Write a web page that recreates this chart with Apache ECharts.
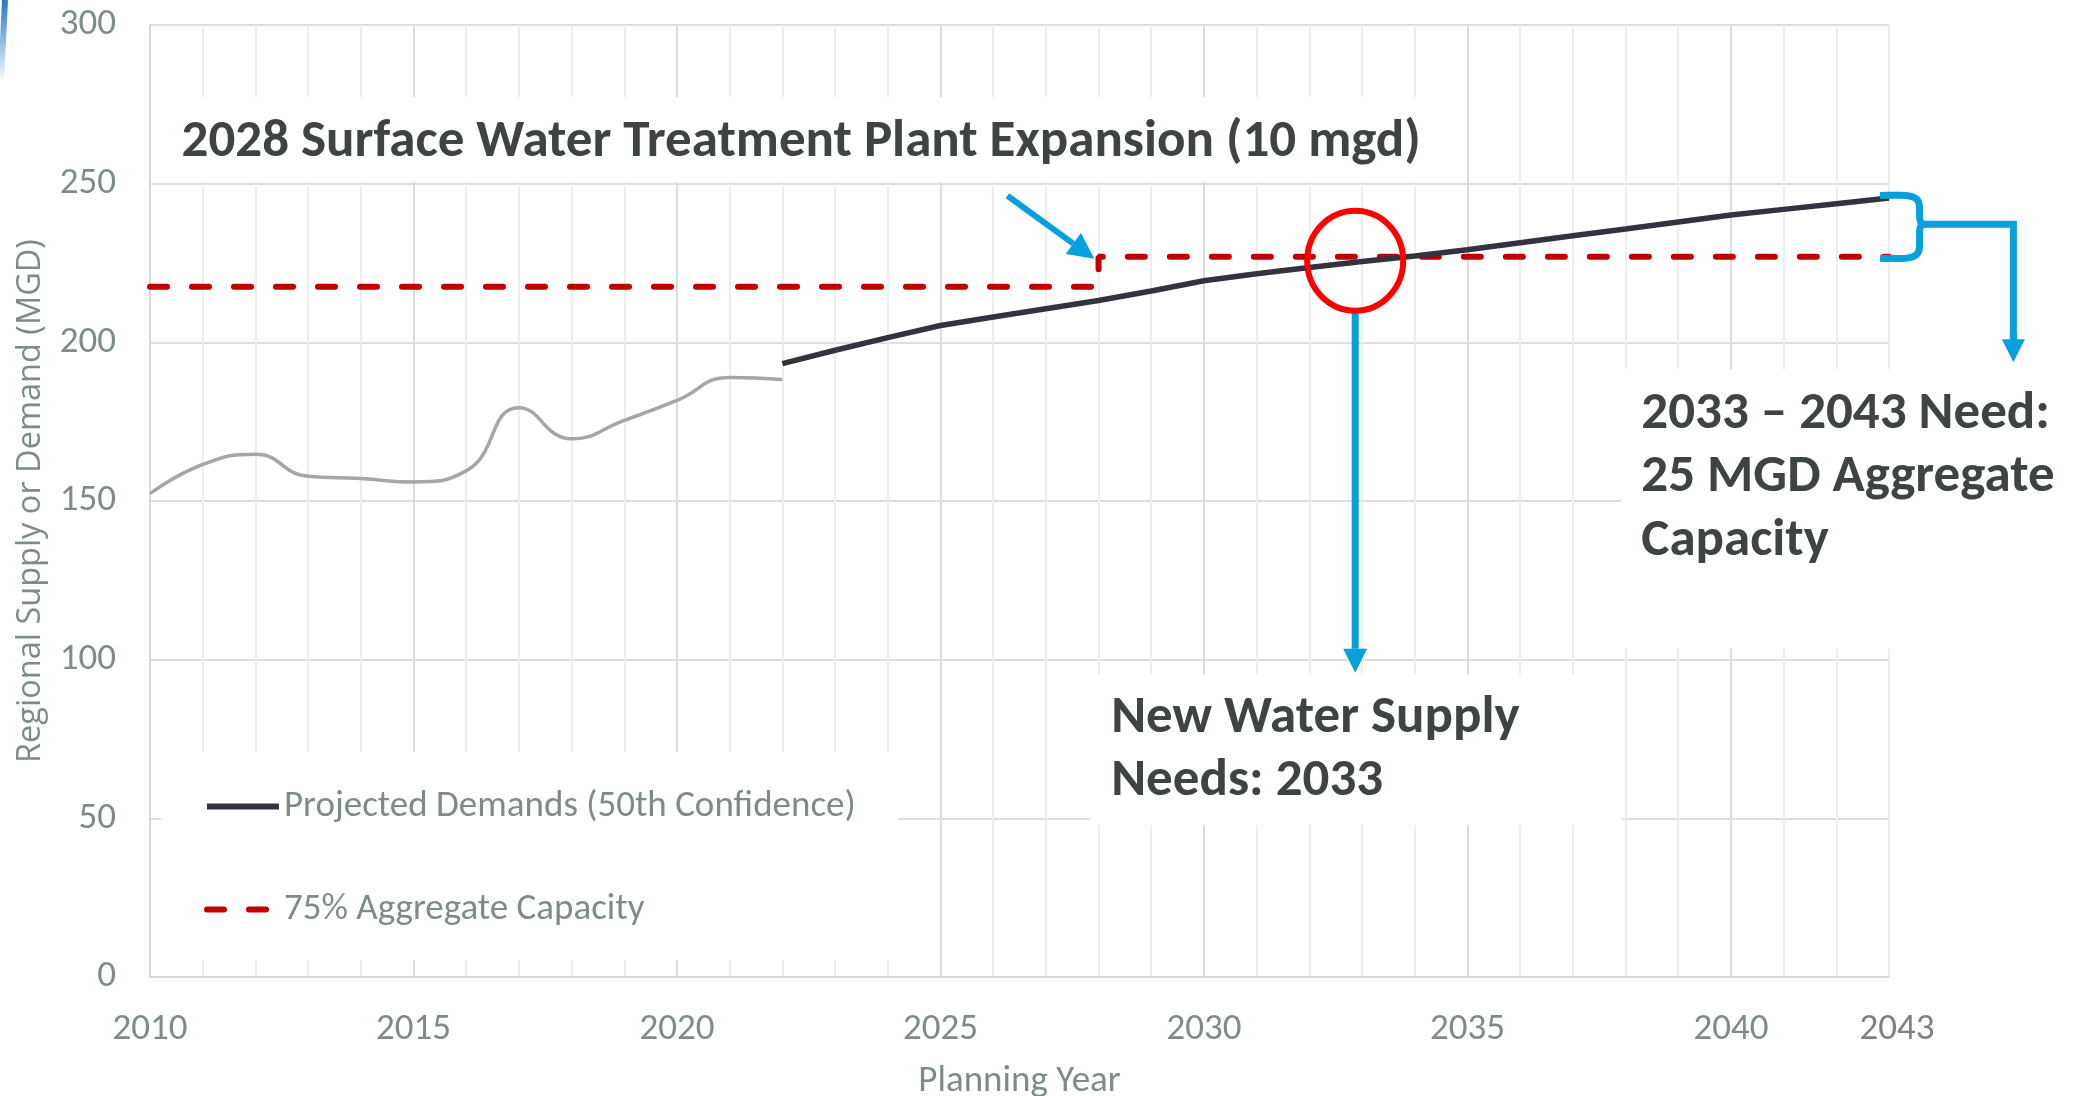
<!DOCTYPE html>
<html>
<head>
<meta charset="utf-8">
<script src="https://cdn.jsdelivr.net/npm/echarts@6/dist/echarts.min.js"></script>
<style>
html, body { margin: 0; padding: 0; background: #fff; }
#waterChart { width: 2088px; height: 1096px; }
</style>
</head>
<body>
<div id="waterChart"></div>
<script>
// historical demand (grey line, not in legend)
const histYears = [2010, 2011, 2012, 2013, 2014, 2015, 2016, 2017, 2018, 2019, 2020, 2021, 2022]
const histDemand = [152.3, 161.5, 164.7, 157.8, 157.1, 156.0, 159.5, 179.4, 169.6, 175.4, 181.7, 188.9, 188.3]
// projected demand 50th confidence
const projYears = [2022, 2023, 2024, 2025, 2026, 2027, 2028, 2029, 2030, 2031, 2032, 2033, 2034, 2035, 2036, 2037, 2038, 2039, 2040, 2041, 2042, 2043]
const projDemand = [193.3, 197.5, 201.5, 205.3, 208.0, 210.6, 213.2, 216.2, 219.4, 221.6, 223.6, 225.5, 227.2, 229.2, 231.4, 233.6, 235.7, 237.9, 240.1, 241.9, 243.7, 245.5]
// 75% aggregate capacity (step at 2028)
const capYears = [2010, 2028, 2028, 2043]
const capValues = [217.5, 217.5, 227, 227]

const projName = 'Projected Demands (50th Confidence)'
const capName = '75% Aggregate Capacity'
const titleNote = '2028 Surface Water Treatment Plant Expansion (10 mgd)'
const needNote = ['New Water Supply', 'Needs: 2033']
const rangeNote = ['2033 \u2013 2043 Need:', '25 MGD Aggregate', 'Capacity']

const NARROW = 'Carlito, Calibri, "Liberation Sans Narrow", "Arial Narrow", sans-serif'
const GREY_TEXT = '#7e8c89'
const NOTE_TEXT = '#3e4442'
const BLUE = '#07a0dd'

let chart = echarts.init(document.getElementById('waterChart'))

let option = {
  animation: false,
  backgroundColor: '#fff',
  grid: { left: 150, right: 199, top: 25, bottom: 119, outerBoundsMode: 'none', containLabel: false },
  legend: {
    data: [projName, capName],
    orient: 'vertical',
    left: 161,
    top: 752,
    padding: [36, 42, 32, 43],
    backgroundColor: '#fff',
    itemWidth: 72,
    itemHeight: 20,
    itemGap: 66,
    itemStyle: { opacity: 0 },
    lineStyle: { width: 6 },
    textStyle: { color: GREY_TEXT, fontSize: 37, fontFamily: NARROW }
  },
  xAxis: {
    type: 'value',
    min: 2010,
    max: 2043,
    interval: 1,
    name: 'Planning Year',
    nameLocation: 'middle',
    nameGap: 86,
    nameTextStyle: { color: GREY_TEXT, fontSize: 37, fontFamily: NARROW },
    axisLine: { show: true, lineStyle: { color: '#d9d9d9', width: 2 } },
    axisTick: { show: false },
    axisLabel: {
      margin: 34,
      color: GREY_TEXT,
      fontSize: 37,
      fontFamily: NARROW,
      formatter: function (v) {
        if (v === 2043) return '{end|2043}'
        return v % 5 === 0 ? String(v) : ''
      },
      rich: {
        end: { color: '#808080', fontSize: 37, fontFamily: NARROW, padding: [0, 0, 0, 16] }
      }
    },
    splitLine: {
      show: true,
      lineStyle: { color: ['#dcdcdc', '#eeeeee', '#eeeeee', '#eeeeee', '#eeeeee'], width: 2 }
    }
  },
  yAxis: {
    type: 'value',
    min: 0,
    max: 300,
    interval: 50,
    name: 'Regional Supply or Demand (MGD)',
    nameLocation: 'middle',
    nameGap: 103,
    nameTextStyle: { color: GREY_TEXT, fontSize: 32.5, fontFamily: '"Open Sans", "Noto Sans", sans-serif' },
    axisLine: { show: true, lineStyle: { color: '#d9d9d9', width: 2 } },
    axisTick: { show: false },
    axisLabel: { margin: 34, color: GREY_TEXT, fontSize: 37, fontFamily: NARROW },
    splitLine: { show: true, lineStyle: { color: '#dedede', width: 2 } }
  },
  series: [
    {
      name: 'History',
      type: 'line',
      smooth: 0.5,
      symbol: 'none',
      data: histYears.map(function (y, i) { return [y, histDemand[i]] }),
      itemStyle: { color: '#a6a6a6' },
      lineStyle: { color: '#a6a6a6', width: 3.5 },
      z: 3
    },
    {
      name: capName,
      type: 'line',
      symbol: 'none',
      data: capYears.map(function (y, i) { return [y, capValues[i]] }),
      itemStyle: { color: '#c00000' },
      lineStyle: { color: '#c00000', width: 6, type: [17, 25], cap: 'round' },
      z: 3
    },
    {
      name: projName,
      type: 'line',
      symbol: 'none',
      data: projYears.map(function (y, i) { return [y, projDemand[i]] }),
      itemStyle: { color: '#35323f' },
      lineStyle: { color: '#35323f', width: 5.5 },
      z: 4
    }
  ]
}
chart.setOption(option)

// annotations are anchored in data space and converted with the chart's own scales
function pt (x, y) {
  return chart.convertToPixel({ gridIndex: 0 }, [x, y])
}

function whiteBox (a, b) {
  let p = pt(a[0], a[1])
  let q = pt(b[0], b[1])
  return {
    type: 'rect',
    z: 5,
    shape: { x: p[0], y: p[1], width: q[0] - p[0], height: q[1] - p[1] },
    style: { fill: '#fff' }
  }
}

function noteText (x, y, text, size) {
  let p = pt(x, y)
  return {
    type: 'text',
    z: 6,
    x: p[0],
    y: p[1],
    style: {
      text: text,
      fill: NOTE_TEXT,
      font: 'bold ' + size + 'px ' + NARROW,
      align: 'left',
      verticalAlign: 'middle'
    }
  }
}

function arrow (from, to, width, head) {
  let dx = to[0] - from[0]
  let dy = to[1] - from[1]
  let len = Math.sqrt(dx * dx + dy * dy)
  let ux = dx / len
  let uy = dy / len
  let bx = to[0] - ux * head
  let by = to[1] - uy * head
  return [
    {
      type: 'line',
      z: 20,
      shape: { x1: from[0], y1: from[1], x2: bx, y2: by },
      style: { stroke: BLUE, lineWidth: width }
    },
    {
      type: 'polygon',
      z: 20,
      shape: { points: [[to[0], to[1]], [bx - uy * head / 2, by + ux * head / 2], [bx + uy * head / 2, by - ux * head / 2]] },
      style: { fill: BLUE }
    }
  ]
}

function bezierPoints (p0, p1, p2, p3) {
  let out = []
  for (let i = 0; i <= 12; i++) {
    let t = i / 12
    let m = 1 - t
    out.push([
      m * m * m * p0[0] + 3 * m * m * t * p1[0] + 3 * m * t * t * p2[0] + t * t * t * p3[0],
      m * m * m * p0[1] + 3 * m * m * t * p1[1] + 3 * m * t * t * p2[1] + t * t * t * p3[1]
    ])
  }
  return out
}

function drawNotes () {
  let els = []
  // white boxes behind the notes
  els.push(whiteBox([2010.1, 277.3], [2034.7, 250.5]))
  els.push(whiteBox([2027.83, 95.3], [2037.92, 47.9]))
  els.push(whiteBox([2037.92, 191.5], [2047.5, 103.5]))

  els.push(noteText(2010.6, 263, titleNote, 53))
  els.push(noteText(2028.24, 81.4, needNote[0], 53))
  els.push(noteText(2028.24, 61.5, needNote[1], 53))
  els.push(noteText(2038.3, 177.3, rangeNote[0], 53))
  els.push(noteText(2038.3, 157.4, rangeNote[1], 53))
  els.push(noteText(2038.3, 137.2, rangeNote[2], 53))

  // arrow to the 2028 expansion step
  els = els.concat(arrow(pt(2026.27, 246.2), pt(2027.92, 226.3), 6, 26))

  // red ring where demand crosses capacity
  let c = pt(2032.87, 225.7)
  els.push({
    type: 'ellipse',
    z: 21,
    shape: { cx: c[0], cy: c[1], rx: 48, ry: 50 },
    style: { fill: 'none', stroke: '#ff0000', lineWidth: 6 }
  })
  let ringBottom = [c[0], c[1] + 50]
  els = els.concat(arrow(ringBottom, [c[0], pt(2032.87, 95.9)[1]], 7, 24))

  // curly brace between capacity and 2043 demand
  let x0 = pt(2042.83, 0)[0]
  let xv = pt(2043.58, 0)[0]
  let xt = pt(2043.7, 0)[0]
  let yT = pt(0, 246.3)[1]
  let yB = pt(0, 226.5)[1]
  let yM = pt(0, 237.2)[1]
  let pts = []
  pts = pts.concat(bezierPoints([x0, yT], [x0 + 34, yT - 1], [xv, yT], [xv, yT + 14]))
  pts = pts.concat(bezierPoints([xv, yM - 8], [xv, yM - 2], [xv + 2, yM], [xt, yM]))
  pts = pts.concat(bezierPoints([xt, yM], [xv + 2, yM], [xv, yM + 2], [xv, yM + 8]))
  pts = pts.concat(bezierPoints([xv, yB - 14], [xv, yB], [x0 + 34, yB + 1], [x0, yB]))
  els.push({
    type: 'polyline',
    z: 20,
    shape: { points: pts },
    style: { stroke: BLUE, lineWidth: 7, fill: 'none', lineJoin: 'round' }
  })
  // elbow arrow out of the brace
  let xe = pt(2045.36, 0)[0]
  let yTip = pt(0, 193.7)[1]
  els.push({
    type: 'polyline',
    z: 20,
    shape: { points: [[xt, yM], [xe, yM], [xe, yTip - 22]] },
    style: { stroke: BLUE, lineWidth: 7, fill: 'none' }
  })
  els = els.concat(arrow([xe, yTip - 30], [xe, yTip], 7, 23))

  // bit of the slide's blue swoosh at the top-left corner
  els.push({
    type: 'line',
    z: 1,
    shape: { x1: 5, y1: 0, x2: 1, y2: 80 },
    style: {
      lineWidth: 6,
      stroke: new echarts.graphic.LinearGradient(0, 0, 0, 1, [
        { offset: 0, color: '#1b75c4' },
        { offset: 1, color: 'rgba(27,117,196,0)' }
      ])
    }
  })

  chart.setOption({ graphic: els })
}
drawNotes()
</script>
</body>
</html>
